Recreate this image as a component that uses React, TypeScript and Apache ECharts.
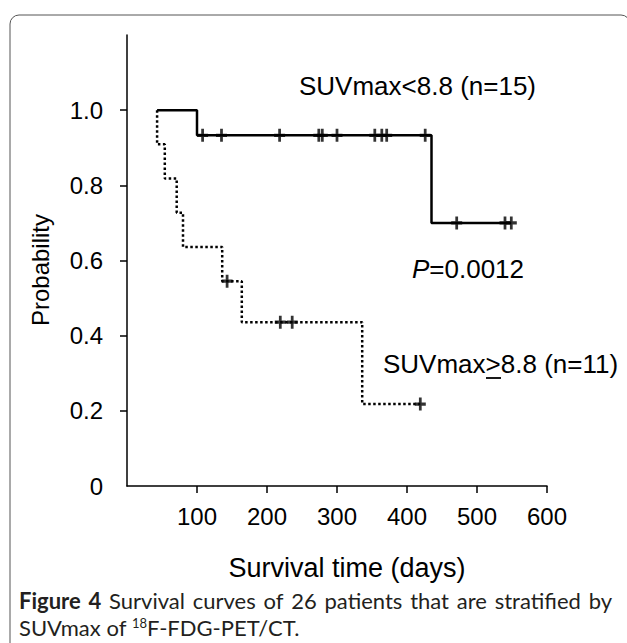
import React, { useEffect, useRef } from 'react';
import * as echarts from 'echarts';

// x axis (days) and y axis (probability) tick values
const xTickValues = [100, 200, 300, 400, 500, 600];
const yTickValues = [0, 0.2, 0.4, 0.6, 0.8, 1.0];

// SUVmax < 8.8 (n=15) — Kaplan-Meier steps
const lowDays = [43, 100, 435, 549];
const lowSurv = [1.0, 0.933, 0.7, 0.7];
const lowCensorDays = [108, 135, 218, 274, 279, 300, 354, 364, 371, 426, 471, 540, 549];
const lowCensorSurv = [0.933, 0.933, 0.933, 0.933, 0.933, 0.933, 0.933, 0.933, 0.933, 0.933, 0.7, 0.7, 0.7];

// SUVmax >= 8.8 (n=11)
const highDays = [43, 43, 54, 71, 80, 136, 164, 336, 419];
const highSurv = [1.0, 0.909, 0.818, 0.727, 0.636, 0.545, 0.436, 0.218, 0.218];
const highCensorDays = [143, 219, 236, 419];
const highCensorSurv = [0.545, 0.436, 0.436, 0.218];

const captionLine1 = ['Figure', '4', 'Survival', 'curves', 'of', '26', 'patients', 'that', 'are', 'stratified', 'by'];
const captionBoldCount = 2;

const PLUS = 'path://M4.5,0h3v4.5h4.5v3h-4.5v4.5h-3v-4.5h-4.5v-3h4.5z';
const FONT = '"Liberation Sans", Arial, sans-serif';
const CAP_FONT = 'Lato, "Open Sans", sans-serif';
const CAP_SIZE = 22;

export default function App() {
  const ref = useRef<HTMLDivElement>(null);
  useEffect(() => {
    if (!ref.current) return;
    const chart = echarts.init(ref.current, null, { renderer: 'svg' });
    const zip = (xs: number[], ys: number[]) => xs.map((x, i) => [x, ys[i]]);

    // justified first caption line
    const ctx = document.createElement('canvas').getContext('2d')!;
    const widths = captionLine1.map((w, i) => {
      ctx.font = `${i < captionBoldCount ? 'bold ' : ''}${CAP_SIZE}px ${CAP_FONT}`;
      return ctx.measureText(w).width;
    });
    const capLeft = 19;
    const capRight = 612;
    const total = widths.reduce((a, b) => a + b, 0);
    const gap = Math.max(3, (capRight - capLeft - total) / (captionLine1.length - 1));
    let cx = capLeft;
    const captionWords = captionLine1.map((w, i) => {
      const el = {
        type: 'text', x: cx, y: 600,
        style: {
          text: w, fill: '#231f20', textVerticalAlign: 'middle',
          font: `${i < captionBoldCount ? 'bold ' : ''}${CAP_SIZE}px ${CAP_FONT}`,
        },
      };
      cx += widths[i] + gap;
      return el;
    });

    chart.setOption({
      animation: false,
      backgroundColor: '#fff',
      grid: { left: 127, right: 80, top: 35, bottom: 157, containLabel: false },
      xAxis: {
        type: 'value',
        min: 0,
        max: 600,
        interval: 100,
        axisLine: { show: true, lineStyle: { color: '#000', width: 1.5 } },
        axisTick: { show: true, length: 7, lineStyle: { color: '#000', width: 1.5 }, customValues: xTickValues },
        axisLabel: { fontFamily: FONT, fontSize: 24, color: '#000', margin: 18, customValues: xTickValues },
        splitLine: { show: false },
      },
      yAxis: {
        type: 'value',
        min: 0,
        max: 1.2,
        interval: 0.2,
        axisLine: { show: true, lineStyle: { color: '#000', width: 1.5 } },
        axisTick: { show: true, length: 7, lineStyle: { color: '#000', width: 1.5 }, customValues: [0.2, 0.4, 0.6, 0.8, 1.0] },
        axisLabel: {
          fontFamily: FONT, fontSize: 24, color: '#000', margin: 24,
          customValues: yTickValues,
          formatter: (v: number) => (v === 0 ? '0' : v.toFixed(1)),
        },
        splitLine: { show: false },
      },
      series: [
        {
          type: 'line', step: 'end', symbol: 'none', data: zip(lowDays, lowSurv),
          lineStyle: { color: '#000', width: 2.5 },
        },
        {
          type: 'line', step: 'end', symbol: 'none', data: zip(highDays, highSurv),
          lineStyle: { color: '#000', width: 2.5, type: [2.5, 2.5] },
        },
        {
          type: 'scatter', symbol: PLUS, symbolSize: [11, 13], data: zip(lowCensorDays, lowCensorSurv),
          itemStyle: { color: '#000' },
        },
        {
          type: 'scatter', symbol: PLUS, symbolSize: [11, 13], data: zip(highCensorDays, highCensorSurv),
          itemStyle: { color: '#000' },
        },
      ],
      graphic: [
        {
          type: 'rect', shape: { x: 10, y: 15, width: 620, height: 700, r: 9 },
          style: { fill: 'none', stroke: '#555', lineWidth: 1 }, silent: true,
        },
        {
          type: 'text', x: 40, y: 270, rotation: Math.PI / 2,
          style: { text: 'Probability', font: `24px ${FONT}`, fill: '#000', textAlign: 'center', textVerticalAlign: 'middle' },
        },
        {
          type: 'text', x: 347, y: 568,
          style: { text: 'Survival time (days)', font: `27px ${FONT}`, fill: '#000', textAlign: 'center', textVerticalAlign: 'middle' },
        },
        {
          type: 'text', x: 299, y: 86,
          style: { text: 'SUVmax<8.8 (n=15)', font: `26px ${FONT}`, fill: '#000', textVerticalAlign: 'middle' },
        },
        {
          type: 'text', x: 412, y: 269,
          style: {
            text: '{i|P}=0.0012', fill: '#000', textVerticalAlign: 'middle',
            font: `26px ${FONT}`,
            rich: { i: { fontFamily: FONT, fontSize: 26, fontStyle: 'italic' } },
          },
        },
        {
          type: 'text', x: 383, y: 364,
          style: { text: 'SUVmax>8.8 (n=11)', font: `26px ${FONT}`, fill: '#000', textVerticalAlign: 'middle' },
        },
        {
          type: 'line', shape: { x1: 486, y1: 378, x2: 501, y2: 378 },
          style: { stroke: '#000', lineWidth: 1.8 },
        },
        ...captionWords,
        {
          type: 'text', x: 19, y: 627,
          style: {
            text: 'SUVmax of {s|18}F-FDG-PET/CT.',
            font: `${CAP_SIZE}px ${CAP_FONT}`, fill: '#231f20', textVerticalAlign: 'middle',
            rich: { s: { fontFamily: CAP_FONT, fontSize: 13, verticalAlign: 'top', fill: '#231f20' } },
          },
        },
      ],
    });
    return () => chart.dispose();
  }, []);
  return <div ref={ref} style={{ position: 'fixed', left: 0, top: 0, width: 627, height: 643 }} />;
}
